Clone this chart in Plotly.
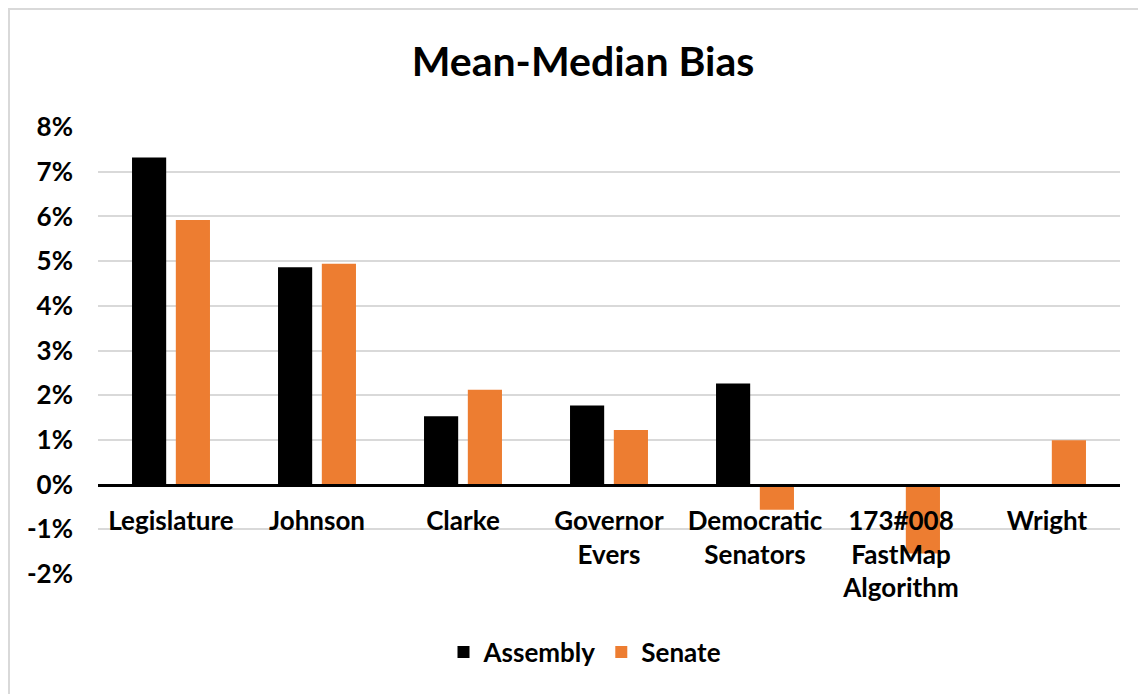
import plotly.graph_objects as go

categories = ["Legislature", "Johnson", "Clarke", "Governor<br>Evers",
              "Democratic<br>Senators", "173#008<br>FastMap<br>Algorithm", "Wright"]
assembly = [0.0732, 0.0486, 0.0153, 0.0177, 0.0226, None, None]
senate = [0.0592, 0.0494, 0.0212, 0.0122, -0.0056, -0.0154, 0.0099]
y_ticks = [-0.02, -0.01, 0, 0.01, 0.02, 0.03, 0.04, 0.05, 0.06, 0.07, 0.08]
y_ticktext = [f"{round(v * 100)}%" for v in y_ticks]

OFF = 8  # page body margin
W, H = 1146 - OFF, 694 - OFF
# plot area in page pixels
L, R, T, B = 98, 1120, 127, 574
FONT = "Lato"

def px_x(p):
    return (p - L) / (R - L)

def px_y(p):
    return (B - p) / (B - T)

fig = go.Figure()
fig.add_trace(go.Bar(x=categories, y=assembly, name="Assembly",
                     marker=dict(color="#000000", line=dict(width=0))))
fig.add_trace(go.Bar(x=categories, y=senate, name="Senate",
                     marker=dict(color="#ED7D31", line=dict(width=0))))

ymin, ymax = -0.02, 0.08
zero_pos = (0 - ymin) / (ymax - ymin)

fig.update_layout(
    width=W, height=H,
    margin=dict(l=L - OFF, r=W - (R - OFF), t=T - OFF, b=H - (B - OFF), pad=0),
    paper_bgcolor="white", plot_bgcolor="white",
    barmode="group", bargap=0.4, bargroupgap=0.22,
    title=dict(text="<b>Mean-Median Bias</b>", x=(583 - OFF) / W, xanchor="center",
               y=1 - (62 - OFF) / H, yanchor="middle",
               font=dict(family=FONT, size=41, color="#000000")),
    font=dict(family=FONT, color="#000000"),
    legend=dict(orientation="h", x=px_x(585), xanchor="center",
                y=px_y(652), yanchor="middle",
                font=dict(family=FONT, size=26, color="#000000", weight="bold"),
                itemwidth=30, tracegroupgap=0),
    xaxis=dict(anchor="free", position=zero_pos, showline=True,
               linecolor="#000000", linewidth=3, showgrid=False,
               ticks="", ticklabelstandoff=12,
               tickfont=dict(family=FONT, size=26, color="#000000", weight="bold")),
    yaxis=dict(range=[ymin, ymax], tickvals=y_ticks, ticktext=y_ticktext,
               showgrid=True, gridcolor="#d9d9d9", gridwidth=2,
               zeroline=False, showline=False, ticks="",
               ticklabelstandoff=24,
               tickfont=dict(family=FONT, size=26, color="#000000", weight="bold")),
    shapes=[
        dict(type="line", xref="paper", yref="paper",
             x0=px_x(OFF), x1=px_x(1146), y0=px_y(OFF + 1), y1=px_y(OFF + 1),
             line=dict(color="#d9d9d9", width=2)),
        dict(type="line", xref="paper", yref="paper",
             x0=px_x(OFF + 1), x1=px_x(OFF + 1), y0=px_y(OFF), y1=px_y(700),
             line=dict(color="#d9d9d9", width=2)),
    ],
)

fig.write_html("out.html")
